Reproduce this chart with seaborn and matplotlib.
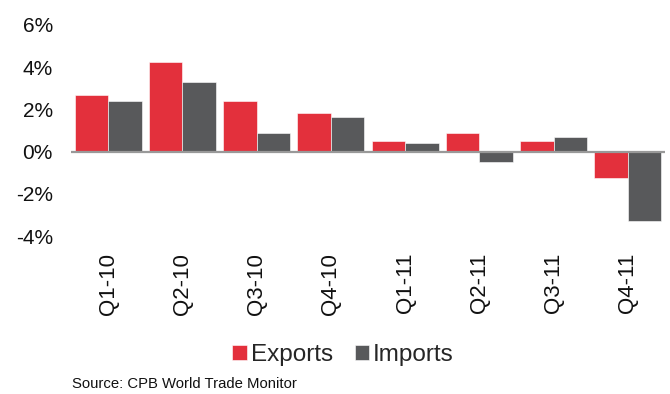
import matplotlib
matplotlib.use("Agg")
import matplotlib.pyplot as plt
import seaborn as sns
import pandas as pd

quarters = ["Q1-10", "Q2-10", "Q3-10", "Q4-10", "Q1-11", "Q2-11", "Q3-11", "Q4-11"]
exports = [2.66, 4.25, 2.39, 1.81, 0.50, 0.88, 0.50, -1.26]
imports = [2.39, 3.32, 0.88, 1.64, 0.41, -0.50, 0.69, -3.30]
y_ticks = [-4, -2, 0, 2, 4, 6]

df = pd.DataFrame({
    "quarter": quarters * 2,
    "value": exports + imports,
    "series": ["Exports"] * len(quarters) + ["Imports"] * len(quarters),
})

sns.set_theme(style="white")
plt.rcParams["font.family"] = ["Liberation Sans", "DejaVu Sans"]

fig = plt.figure(figsize=(6.7, 3.94), dpi=100)
ax = fig.add_axes([71 / 670, 1 - 236 / 394, (665 - 71) / 670, (236 - 25) / 394])

palette = {"Exports": "#E3303C", "Imports": "#58595B"}
sns.barplot(data=df, x="quarter", y="value", hue="series", palette=palette,
            width=0.9, saturation=1, ax=ax, legend=True)

for p in ax.patches:
    p.set_edgecolor("white")
    p.set_linewidth(0.4)

ax.set_ylim(-4, 6)
ax.set_xlim(-0.5, len(quarters) - 0.5)
ax.set_yticks(y_ticks)
ax.set_yticklabels([f"{t}%" for t in y_ticks], fontsize=15, color="#111111")
ax.tick_params(axis="y", length=0, pad=13)
ax.tick_params(axis="x", length=0, pad=12, labelsize=16, labelcolor="#111111")
plt.setp(ax.get_xticklabels(), rotation=90, va="top", ha="center")
ax.set_xlabel("")
ax.set_ylabel("")
for s in ax.spines.values():
    s.set_visible(False)
ax.axhline(0, color="#999999", lw=1.6, zorder=3)

handles, labels = ax.get_legend_handles_labels()
ax.legend_.remove()
fig.legend(handles, labels, loc="center", bbox_to_anchor=(343 / 670, 1 - 355 / 394),
           ncol=2, frameon=False, fontsize=17.5, handlelength=0.6, handleheight=0.6,
           handletextpad=0.15, columnspacing=0.9, borderaxespad=0)

fig.text(72 / 670, 1 - 384 / 394, "Source: CPB World Trade Monitor",
         fontsize=10.7, va="center", ha="left", color="#111111")

fig.savefig("out.png", dpi=100)
